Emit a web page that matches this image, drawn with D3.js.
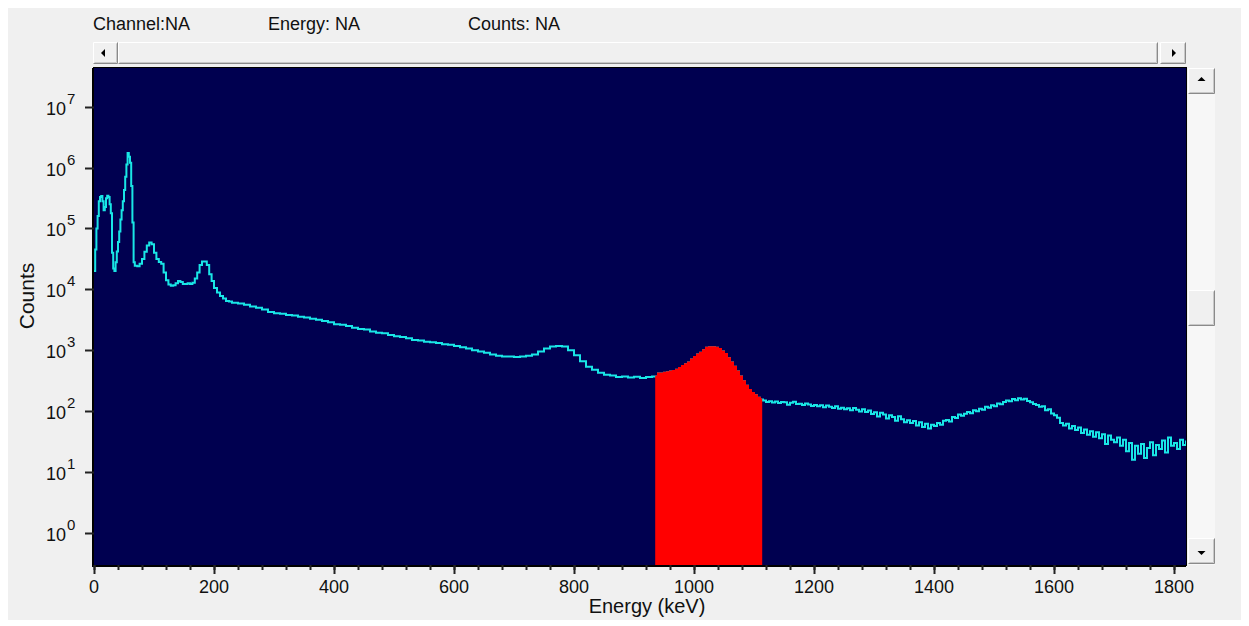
<!DOCTYPE html>
<html>
<head>
<meta charset="utf-8">
<script src="https://cdn.jsdelivr.net/npm/d3@7"></script>
<style>
	body { margin:0; background:#fff; }
	text { font-family:"Liberation Sans", Arial, sans-serif; fill:#111; }
</style>
</head>
<body>
<svg id="chart" width="1249" height="626"></svg>
<script>
// spectrum: bin start (keV) and counts in that bin
var energy_kev = [
	0,2,4,6,8,10,12,14,16,18,20,22,24,26,28,30,32,34,36,38,40,42,44,46,48,50,52,54,56,58,60,62,64,66,68,
	72,76,80,84,88,92,96,100,104,108,112,116,120,124,128,132,136,140,144,148,152,156,160,164,168,172,176,
	180,184,188,192,196,200,205,210,215,220,225,230,240,250,260,270,280,290,
	300,310,320,330,340,350,360,370,380,390,400,410,420,430,440,450,460,470,480,490,
	500,510,520,530,540,550,560,570,580,590,600,610,620,630,640,650,660,670,680,690,
	700,710,720,730,740,750,760,770,780,790,800,810,820,830,840,850,860,870,880,890,
	900,910,920,930,940,945,950,955,960,965,970,975,980,985,990,995,
	1000,1005,1010,1015,1020,1025,1030,1035,1040,1045,1050,1055,1060,1065,1070,1075,1080,1085,1090,1095,
	1100,1105,1110,1115,1120,1125,1130,1135,1140,1145,1150,1155,1160,1165,1170,1175,1180,1185,1190,1195,
	1200,1205,1210,1215,1220,1225,1230,1235,1240,1245,1250,1255,1260,1265,1270,1275,1280,1285,1290,1295,
	1300,1305,1310,1315,1320,1325,1330,1335,1340,1345,1350,1355,1360,1365,1370,1375,1380,1385,1390,1395,
	1400,1405,1410,1415,1420,1425,1430,1435,1440,1445,1450,1455,1460,1465,1470,1475,1480,1485,1490,1495,
	1500,1505,1510,1515,1520,1525,1530,1535,1540,1545,1550,1555,1560,1565,1570,1575,1580,1585,1590,1595,
	1600,1605,1610,1615,1620,1625,1630,1635,1640,1645,1650,1655,1660,1665,1670,1675,1680,1685,1690,1695,
	1700,1705,1710,1715,1720,1725,1730,1735,1740,1745,1750,1755,1760,1765,1770,1775,1780,1785,1790,1795,
	1800,1805,1810,1815,1820
];
var counts = [
	20000,45000,100000,160000,280000,330000,340000,280000,200000,225000,315000,345000,330000,250000,178000,
	40000,22000,20000,28000,42000,60000,89000,141000,200000,280000,430000,710000,1120000,1740000,1510000,
	1200000,500000,126000,28000,24500,
	24000,26300,31600,41700,52500,59000,55000,40000,31600,28200,26300,19000,14100,12000,11500,11700,12600,
	13800,13200,12300,12300,12600,12300,12900,15100,19000,25100,
	28800,28800,25100,17800,13800,10500,8900,7760,7080,6460,6310,6030,5890,5620,5250,5010,4680,4270,
	4070,3980,3800,3720,3550,3470,3310,3160,3020,2880,2690,2630,2510,2340,2240,2190,2040,1950,1910,1780,
	1700,1660,1580,1480,1450,1380,1350,1320,1260,1230,1175,1120,1070,1000,955,912,851,813,794,794,
	776,794,813,851,955,1070,1150,1175,1150,1000,832,661,537,479,427,398,385,366,372,358,
	368,352,365,372,417,417,427,437,447,457,479,513,550,589,631,708,
	776,851,912,1000,1100,1120,1120,1100,1050,955,871,741,631,537,447,372,309,263,224,200,
	182,166,155,150,141,146,139,144,137,142,140,128,138,143,131,133,126,134,129,122,
	127,121,125,116,124,118,113,121,110,114,108,112,104,113,106,99,108,97,103,90,
	96,82,94,88,76,86,80,70,83,74,66,71,64,69,58,66,55,62,52,60,
	57,64,60,70,72,68,80,77,88,84,91,97,93,104,100,110,106,118,114,125,
	121,134,130,142,150,146,158,152,163,155,160,147,140,131,127,118,121,104,108,92,
	86,78,64,58,62,52,57,49,54,44,50,41,47,38,45,36,42,29,40,34,
	31,37,27,34,22,30,16,27,20,29,17,25,31,19,28,24,33,21,37,27,
	30,24,34,28,33
];
var roi_kev = [937, 1112];
var x_ticks = d3.range(0, 1801, 200);
var x_minor = d3.range(0, 1821, 40);
var y_decades = [0, 1, 2, 3, 4, 5, 6, 7];
var readouts = ["Channel:NA", "Energy: NA", "Counts: NA"];

var plot = { left:94, top:68, right:1186, bottom:565 };

var svg = d3.select('#chart');
var spectrum = energy_kev.map(function(e,i){ return [e, counts[i]]; });

// window panel
svg.append('rect').attr('x',8).attr('y',8).attr('width',1233).attr('height',612).attr('fill','#f0f0f0');

// readouts above the scroll bar
var readout_x = [93, 268, 468];
svg.selectAll('.readout').data(readouts).enter()
	.append('text')
	.attr('class','readout')
	.attr('x',function(d,i){ return readout_x[i]; })
	.attr('y',30)
	.style('font-size','18px')
	.text(function(d){ return d; });

function raised(g, x, y, w, h){
	g.append('rect').attr('x',x).attr('y',y).attr('width',w).attr('height',h).attr('fill','#f0f0f0');
	g.append('path').attr('d','M'+(x+0.5)+','+(y+h-0.5)+'V'+(y+0.5)+'H'+(x+w-0.5))
		.attr('fill','none').attr('stroke','#fff');
	g.append('path').attr('d','M'+(x+0.5)+','+(y+h-0.5)+'H'+(x+w-0.5)+'V'+(y+0.5))
		.attr('fill','none').attr('stroke','#8a8a8a');
	g.append('path').attr('d','M'+(x+1.5)+','+(y+h-1.5)+'H'+(x+w-1.5)+'V'+(y+1.5))
		.attr('fill','none').attr('stroke','#c8c8c8');
}

// horizontal scroll bar
var hbar = svg.append('g').attr('class','hscroll');
hbar.append('rect').attr('x',93).attr('y',42).attr('width',1067).attr('height',22).attr('fill','#f6f6f6');
raised(hbar, 93, 42, 25, 22);
raised(hbar, 118, 42, 1040, 22);
raised(hbar, 1160, 42, 26, 22);
hbar.append('path').attr('d','M101,53l4,-4v8z').attr('fill','#000');
hbar.append('path').attr('d','M1176,53l-4,-4v8z').attr('fill','#000');

// vertical scroll bar
var vbar = svg.append('g').attr('class','vscroll');
vbar.append('rect').attr('x',1188).attr('y',68).attr('width',27).attr('height',497).attr('fill','#f7f7f7');
raised(vbar, 1188, 68, 27, 26);
raised(vbar, 1188, 290, 27, 36);
raised(vbar, 1188, 538, 27, 26);
vbar.append('path').attr('d','M1201.5,77l4,4h-8z').attr('fill','#000');
vbar.append('path').attr('d','M1201.5,555l4,-4h-8z').attr('fill','#000');

// scales
var scale_x = d3.scaleLinear().domain([0, 1820]).range([plot.left, plot.right]);
var scale_y = d3.scaleLog().domain([Math.pow(10,-0.525), Math.pow(10,7.635)]).range([plot.bottom, plot.top]);

svg.append('defs').append('clipPath').attr('id','plotclip')
	.append('rect').attr('x',plot.left).attr('y',plot.top)
	.attr('width',plot.right-plot.left).attr('height',plot.bottom-plot.top);

svg.append('rect')
	.attr('x',plot.left).attr('y',plot.top)
	.attr('width',plot.right-plot.left).attr('height',plot.bottom-plot.top)
	.attr('fill','#000050');

var marks = svg.append('g').attr('clip-path','url(#plotclip)');

var line = d3.line()
	.x(function(d){ return scale_x(d[0]); })
	.y(function(d){ return scale_y(d[1]); })
	.curve(d3.curveStepAfter);
marks.append('path')
	.datum(spectrum)
	.attr('class','line')
	.attr('d',line)
	.attr('fill','none')
	.attr('stroke','#19e6e6')
	.attr('stroke-width',2);

// region of interest, filled from the spectrum down
var bisect = d3.bisector(function(d){ return d[0]; }).right;
var roi = [[roi_kev[0], spectrum[bisect(spectrum, roi_kev[0]) - 1][1]]];
spectrum.forEach(function(d){ if (d[0] > roi_kev[0] && d[0] < roi_kev[1]) roi.push(d); });
roi.push([roi_kev[1], roi[roi.length-1][1]]);
var area = d3.area()
	.x(function(d){ return scale_x(d[0]); })
	.y0(plot.bottom)
	.y1(function(d){ return scale_y(d[1]); })
	.curve(d3.curveStepAfter);
marks.append('path')
	.datum(roi)
	.attr('class','area')
	.attr('d',area)
	.attr('fill','#ff0000')
	.attr('stroke','#ff0000')
	.attr('stroke-width',2);

// frame
svg.append('rect')
	.attr('x',plot.left-0.5).attr('y',plot.top-0.5)
	.attr('width',plot.right-plot.left+1).attr('height',plot.bottom-plot.top+1)
	.attr('fill','none').attr('stroke','#000').attr('stroke-width',1);
svg.append('path')
	.attr('d','M'+(plot.left-1)+','+plot.top+'V'+(plot.bottom+1)+'H'+plot.right)
	.attr('fill','none').attr('stroke','#000').attr('stroke-width',2);

// x axis
var axes = svg.append('g').attr('class','axes');
axes.selectAll('.xminor').data(x_minor).enter()
	.append('line').attr('class','xminor')
	.attr('x1',function(d){ return Math.round(scale_x(d))+0.5; })
	.attr('x2',function(d){ return Math.round(scale_x(d))+0.5; })
	.attr('y1',plot.bottom).attr('y2',plot.bottom+5)
	.attr('stroke','#222').attr('stroke-width',2);
axes.selectAll('.xmajor').data(x_ticks).enter()
	.append('line').attr('class','xmajor')
	.attr('x1',function(d){ return Math.round(scale_x(d))+0.5; })
	.attr('x2',function(d){ return Math.round(scale_x(d))+0.5; })
	.attr('y1',plot.bottom).attr('y2',plot.bottom+9)
	.attr('stroke','#222').attr('stroke-width',2);
axes.selectAll('.xlabel').data(x_ticks).enter()
	.append('text').attr('class','xlabel')
	.attr('x',function(d){ return scale_x(d); })
	.attr('y',593)
	.attr('text-anchor','middle')
	.style('font-size','18px')
	.text(function(d){ return d; });
axes.append('text')
	.attr('x',647).attr('y',613)
	.attr('text-anchor','middle')
	.style('font-size','20px')
	.text('Energy (keV)');

// y axis
axes.selectAll('.ytick').data(y_decades).enter()
	.append('line').attr('class','ytick')
	.attr('x1',plot.left-9).attr('x2',plot.left)
	.attr('y1',function(d){ return Math.round(scale_y(Math.pow(10,d)))+0.5; })
	.attr('y2',function(d){ return Math.round(scale_y(Math.pow(10,d)))+0.5; })
	.attr('stroke','#222').attr('stroke-width',2);
axes.selectAll('.ybase').data(y_decades).enter()
	.append('text').attr('class','ybase')
	.attr('x',66)
	.attr('y',function(d){ return scale_y(Math.pow(10,d))+8; })
	.attr('text-anchor','end')
	.style('font-size','18px')
	.text('10');
axes.selectAll('.yexp').data(y_decades).enter()
	.append('text').attr('class','yexp')
	.attr('x',67)
	.attr('y',function(d){ return scale_y(Math.pow(10,d))-3; })
	.style('font-size','15px')
	.text(function(d){ return d; });
axes.append('text')
	.attr('transform','translate(34,296) rotate(-90)')
	.attr('text-anchor','middle')
	.style('font-size','21px')
	.text('Counts');
</script>
</body>
</html>
